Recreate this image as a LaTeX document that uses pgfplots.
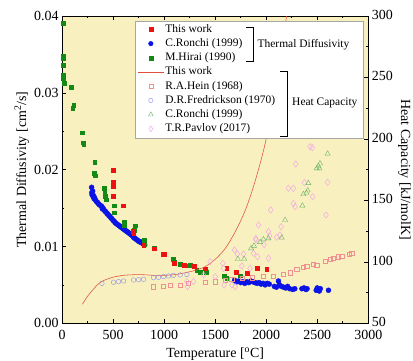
\documentclass[border=0pt]{standalone}
\usepackage{pgfplots}
\pgfplotsset{compat=1.18}
\usepackage{fontspec}
\setmainfont{Liberation Serif}
\definecolor{bgy}{HTML}{F8F0BE}
\definecolor{tdred}{HTML}{EE1111}
\definecolor{tdblue}{HTML}{0A14E6}
\definecolor{tdgreen}{HTML}{138A13}
\definecolor{cpline}{HTML}{E05040}
\definecolor{cpred}{HTML}{F09090}
\definecolor{cpblue}{HTML}{8C8CEA}
\definecolor{cpgreen}{HTML}{6EB46E}
\definecolor{cppink}{HTML}{F2A0EC}
\pgfplotsset{
  common/.style={
    scale only axis, width=306.3bp, height=307.3bp,
    xmin=0, xmax=3000,
    at={(0,0)}, anchor=south west,
    tick label style={font=\fontsize{14}{16}\selectfont},
    label style={font=\fontsize{14}{16}\selectfont},
    /pgf/number format/assume math mode=true,
    /pgf/number format/1000 sep={},
    major tick length=4bp, minor tick length=2.2bp,
    tick style={black, line width=0.6pt},
    axis line style={line width=0.7pt},
  }
}
\begin{document}
\begin{tikzpicture}
\begin{axis}[common, name=main,
  axis background/.style={fill=bgy},
  ymin=0, ymax=0.04,
  xtick={0,500,...,3000}, minor x tick num=1,
  ytick={0,0.01,0.02,0.03,0.04}, minor y tick num=1,
  ytick pos=left, xtick pos=both,
  xticklabel style={yshift=-3.2bp},
  yticklabel style={/pgf/number format/fixed, /pgf/number format/fixed zerofill, /pgf/number format/precision=2},
  scaled y ticks=false,
  xlabel={Temperature [\textsuperscript{o}C]},
  ylabel={Thermal Diffusivity [cm\textsuperscript{2}/s]},
  xlabel style={at={(axis description cs:0.5,-0.100)}, anchor=center},
  ylabel style={at={(axis description cs:-0.131,0.5)}, anchor=center},
]
% C.Ronchi (1999) thermal diffusivity
\addplot[only marks, mark=*, mark size=2.5bp, color=tdblue] coordinates {
(290,0.0177)(292,0.0170)(295,0.0167)(300,0.0172)(305,0.0165)(310,0.0166)(315,0.0162)(320,0.0163)
(330,0.0160)(340,0.0158)(350,0.0157)(360,0.0155)(370,0.0154)(380,0.0153)(390,0.0152)(395,0.0149)
(400,0.0150)(410,0.0148)(420,0.0146)(430,0.0145)(440,0.0143)(450,0.0142)(460,0.0140)(470,0.0139)
(480,0.0137)(490,0.0136)(500,0.0134)(510,0.0133)(520,0.0131)(530,0.0130)(540,0.0129)(550,0.0128)
(560,0.0127)(570,0.0126)(580,0.0125)(590,0.0124)(600,0.0123)(610,0.0122)(620,0.0121)(630,0.0120)
(640,0.0119)(650,0.0118)(660,0.0117)(670,0.0116)(680,0.0115)(690,0.0114)(700,0.0112)(710,0.0111)
(720,0.0110)(730,0.0109)(740,0.0108)(750,0.0107)(760,0.0106)(770,0.0106)(780,0.0105)(790,0.0104)
(800,0.0103)(810,0.0102)
(1690,0.0056)(1710,0.0054)(1730,0.0055)(1750,0.0053)(1770,0.0054)(1790,0.0052)(1810,0.0054)
(1830,0.0053)(1850,0.0055)(1870,0.0054)(1890,0.0053)(1910,0.0052)(1930,0.0053)(1950,0.0051)
(1970,0.0052)(1990,0.0050)(2010,0.0052)(2030,0.0051)(2080,0.0048)(2100,0.0047)(2120,0.0055)
(2130,0.0050)(2150,0.0048)(2170,0.0047)(2190,0.0046)(2210,0.0048)(2230,0.0045)(2260,0.0044)
(2280,0.0045)(2350,0.0045)(2370,0.0046)(2390,0.0044)(2400,0.0045)(2490,0.0043)(2500,0.0046)
(2510,0.0044)(2520,0.0042)(2530,0.0045)(2610,0.0043)
};
% M.Hirai (1990)
\addplot[only marks, mark=square*, mark size=1.9bp, color=tdgreen] coordinates {
(10,0.0391)(10,0.0348)(10,0.0345)(15,0.0336)(15,0.0323)(15,0.0319)(22,0.0312)
(88,0.0307)(104,0.0280)(114,0.0284)(196,0.0248)(205,0.0235)(212,0.0233)
(320,0.0210)(312,0.0195)(328,0.0192)(415,0.0176)(418,0.0170)(425,0.0165)(434,0.0161)
(505,0.0165)(510,0.0153)(515,0.0144)(610,0.0132)(613,0.0127)(717,0.0127)(711,0.0121)
(805,0.0108)(808,0.0103)(903,0.0098)(995,0.0090)(1093,0.0083)(1100,0.0080)
(1158,0.0077)(1223,0.0075)(1255,0.0076)(1320,0.0069)(1353,0.0067)(1412,0.0067)
(1588,0.0061)(1614,0.0059)(1745,0.0062)
};
% This work thermal diffusivity
\addplot[only marks, mark=square*, mark size=1.9bp, color=tdred] coordinates {
(505,0.0199)(505,0.0184)(505,0.0178)(505,0.0165)(603,0.0153)(700,0.0120)(703,0.0117)
(800,0.0102)(903,0.0097)(1001,0.0090)(1102,0.0078)(1200,0.0076)(1298,0.0074)(1402,0.0071)
(1614,0.0072)(1705,0.0066)(1810,0.0065)(1908,0.0072)(2005,0.0070)
};
\end{axis}
\begin{axis}[common,
  ymin=50, ymax=300,
  ytick={50,100,...,300}, minor y tick num=1,
  axis y line*=right, axis x line=none,
  yticklabel style={yshift=1.2bp},
  ylabel={Heat Capacity [kJ/molK]},
  ylabel style={at={(axis description cs:1.118,0.5)}, anchor=center, rotate=180},
  legend image code/.code={\draw[mark repeat=2,mark phase=2,#1] plot coordinates {(0bp,0bp) (13bp,0bp) (26bp,0bp)};},
  legend style={at={(axis description cs:0.246,0.980)}, anchor=north west, draw=none, fill=none,
    inner sep=0pt, row sep=0pt,
    nodes={font=\fontsize{11.5}{13}\selectfont, text height=8.6bp, text depth=3bp, inner sep=1.3bp},
    legend cell align=left},
]
% This work heat capacity
\addplot[smooth, color=cpline, line width=0.55pt, forget plot] coordinates {
(200,65.5)(250,72)(300,77)(350,81.5)(400,84.5)(500,87.5)(600,89)(700,89.5)(800,89.5)
(900,89)(1000,89)(1100,89.5)(1200,91)(1300,93)(1400,96)(1500,102)(1600,111)(1700,125)
(1800,143)(1900,168)(2000,200)(2100,245)(2200,300)
};
% R.A.Hein (1968)
\addplot[only marks, mark=square, mark size=2.1bp, color=cpred, mark options={fill=white}, forget plot] coordinates {
(897,79.8)(995,80.4)(1060,81.2)(1158,81.2)(1239,82.5)(1402,83.4)(1500,83.9)(1598,85.2)
(1663,85.8)(1761,86.6)(1859,87.1)(1973,88.0)(2071,88.5)(2168,90.1)(2234,91.2)(2299,93.9)
(2364,95.6)(2397,96.6)(2462,98.3)(2495,97.5)(2576,100.7)(2625,102.1)(2658,102.9)(2707,104.2)
(2739,104.8)(2814,106.1)(2837,107.0)
};
% D.R.Fredrickson (1970)
\addplot[only marks, mark=o, mark size=2.3bp, color=cpblue, mark options={fill=white}, forget plot] coordinates {
(391,82.5)(505,83.4)(554,83.9)(603,84.4)(701,85.2)(750,85.4)(799,85.8)(897,87.1)(946,87.4)
(995,88.0)(1043,88.5)(1092,89.0)(1158,89.3)(1223,89.6)
};
% T.R.Pavlov (2017)
\addplot[only marks, mark=diamond, mark size=3.2bp, color=cppink, mark options={fill=white}, forget plot] coordinates {
(1223,84)(1229,79.8)(1288,84)(1386,89.3)(1451,100.2)(1500,88)(1575,98.8)(1588,81.2)(1581,94.7)
(1663,81.2)(1690,109.6)(1696,79.8)(1718,106.4)(1761,96.6)(1777,106.4)(1842,94.7)(1875,107)
(1914,104.2)(1924,130)(1901,117.8)(2022,124.6)(2032,121)(2045,142.2)(2022,102.9)(2103,120)
(2146,128.6)(2217,159.8)(2266,159.8)(2266,147.6)(2283,144.9)(2289,179.6)(2374,164.4)
(2455,153)(2602,164.7)(2586,138.1)(2430,193.7)(2452,192.9)(1979,114)(2136,121.9)(1898,119)
};
% C.Ronchi (1999) heat capacity
\addplot[only marks, mark=triangle, mark size=3.0bp, color=cpgreen, mark options={fill=white}, forget plot] coordinates {
(1722,102.3)(1784,102.3)(1852,111)(1880,113)(1940,116)(1973,118.3)(2022,119.1)(2152,119.7)
(2185,134)(2354,145.7)(2364,155)(2395,156)(2407,158)(2413,164)(2495,176)(2511,178)(2527,180)
(2520,176)(2602,188)
};
% legend frame, brackets and group labels
\draw[draw=gray!70, fill=white, line width=0.6pt] (axis cs:717,200.5) rectangle (axis cs:2948,295.3);
\draw[black, line width=0.6pt] (axis cs:1803,291) -- (axis cs:1875,291) -- (axis cs:1875,263.4) -- (axis cs:1803,263.4);
\draw[black, line width=0.6pt] (axis cs:2138,254.7) -- (axis cs:2208,254.7) -- (axis cs:2208,202.4) -- (axis cs:2138,202.4);
\node[anchor=west, inner sep=0pt, font=\fontsize{11.5}{13}\selectfont] at (axis cs:1914,276.4) {Thermal Diffusivity};
\node[anchor=west, inner sep=0pt, font=\fontsize{11.5}{13}\selectfont] at (axis cs:2253,229.4) {Heat Capacity};
\addlegendimage{only marks, mark=square*, mark size=1.9bp, color=tdred}
\addlegendentry{This work}
\addlegendimage{only marks, mark=*, mark size=2.3bp, color=tdblue}
\addlegendentry{C.Ronchi (1999)}
\addlegendimage{only marks, mark=square*, mark size=1.9bp, color=tdgreen}
\addlegendentry{M.Hirai (1990)}
\addlegendimage{color=cpline, line width=0.6pt}
\addlegendentry{This work}
\addlegendimage{only marks, mark=square, mark size=2bp, color=cpred}
\addlegendentry{R.A.Hein (1968)}
\addlegendimage{only marks, mark=o, mark size=2.2bp, color=cpblue}
\addlegendentry{D.R.Fredrickson (1970)}
\addlegendimage{only marks, mark=triangle, mark size=2.8bp, color=cpgreen}
\addlegendentry{C.Ronchi (1999)}
\addlegendimage{only marks, mark=diamond, mark size=2.8bp, color=cppink}
\addlegendentry{T.R.Pavlov (2017)}
\end{axis}
\pgfresetboundingbox
\path ([xshift=-62bp,yshift=-37.7bp]main.south west) rectangle ([xshift=44.7bp,yshift=16bp]main.north east);
\end{tikzpicture}
\end{document}
